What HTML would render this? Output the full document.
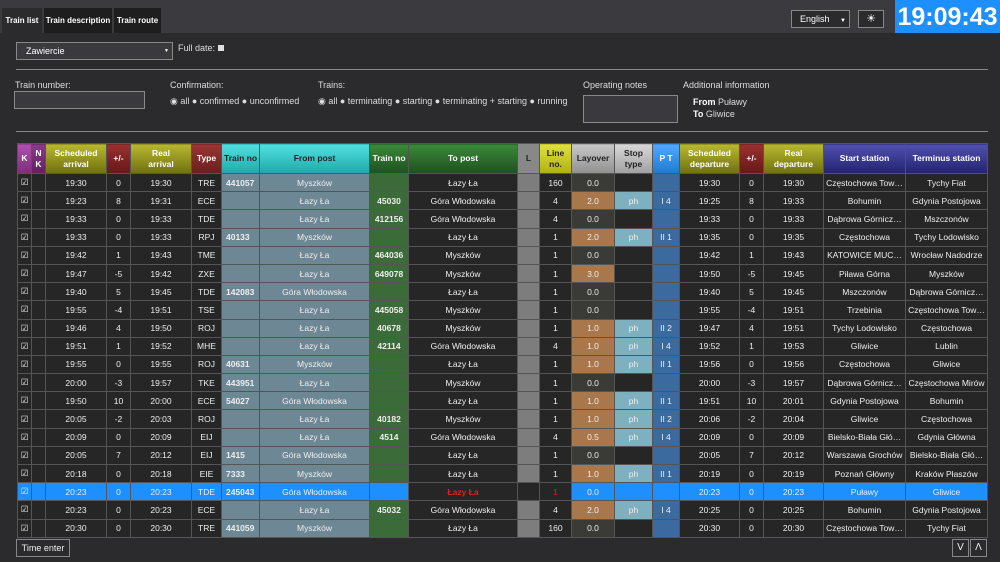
<!DOCTYPE html>
<html><head><meta charset="utf-8"><style>
*{box-sizing:border-box;margin:0;padding:0}
body{width:1000px;height:562px;background:#2b2b2e;font-family:"Liberation Sans",sans-serif;color:#ddd;position:relative;overflow:hidden;font-size:9px}
.top{position:absolute;left:0;top:0;width:1000px;height:33px;background:#3b3b3f}
.tab{position:absolute;top:8px;height:25px;background:#1e1e1f;color:#fff;font-weight:bold;font-size:8px;line-height:26px;text-align:center}
.clock{position:absolute;left:895px;top:0;width:105px;height:33px;background:#1e8fff;color:#fff;font-weight:bold;font-size:25px;line-height:34px;text-align:center}
.ab{position:absolute}
.box{position:absolute;border:1px solid #888;background:#3a3a3e}
table{position:absolute;left:17px;top:143px;width:970px;border-collapse:collapse;table-layout:fixed}
th{height:30px;color:#fff;font-size:8.5px;font-weight:bold;border:1px solid #555;line-height:11px}
td{height:18.2px;border:1px solid #555;text-align:center;font-size:8.5px;color:#eee;background:#262626;white-space:nowrap;overflow:hidden}
.ts{background:#6d8795;font-weight:bold;text-align:left;padding-left:4px}
.fp{background:#6d8795}
.tn{background:#3c6b3a;font-weight:bold}
.l{background:#7d7d7d}
.lo{background:#a8774c}
.ld{background:#3a3a36}
.sp{background:#7fb0bf}
.pt{background:#3b6b9e}
tr.sel td{background:#1e8fff}
tr.sel td.dk{background:#262626}
</style></head><body>
<div class="top"></div>
<div class="tab" style="left:2px;width:40px;background:#2b2b2e">Train list</div>
<div class="tab" style="left:44px;width:68px">Train description</div>
<div class="tab" style="left:114px;width:47px">Train route</div>
<div class="box" style="left:791px;top:10px;width:59px;height:18px;background:#2b2b2e;color:#fff;font-size:9px;line-height:16px;padding-left:8px">English <span style="font-size:6px;margin-left:8px">▼</span></div>
<div class="box" style="left:858px;top:10px;width:26px;height:18px;background:#2b2b2e;color:#fff;text-align:center;line-height:16px;font-size:11px">☀</div>
<div class="clock">19:09:43</div>

<div class="box" style="left:16px;top:42px;width:157px;height:18px;color:#fff;font-size:9px;line-height:16px;padding-left:9px">Zawiercie<span style="position:absolute;right:3px;font-size:5px">▼</span></div>
<div class="ab" style="left:178px;top:43px;color:#ddd">Full date: <span style="display:inline-block;width:6px;height:6px;background:#ddd"></span></div>
<div class="ab" style="left:16px;top:69px;width:972px;height:1px;background:#888"></div>
<div class="ab" style="left:15px;top:80px">Train number:</div>
<div class="box" style="left:14px;top:91px;width:131px;height:18px"></div>
<div class="ab" style="left:170px;top:80px">Confirmation:</div>
<div class="ab" style="left:170px;top:96px">◉ all ● confirmed ● unconfirmed</div>
<div class="ab" style="left:318px;top:80px">Trains:</div>
<div class="ab" style="left:318px;top:96px">◉ all ● terminating ● starting ● terminating + starting ● running</div>
<div class="ab" style="left:583px;top:80px">Operating notes</div>
<div class="box" style="left:583px;top:95px;width:95px;height:28px"></div>
<div class="ab" style="left:683px;top:80px">Additional information</div>
<div class="ab" style="left:693px;top:96px;line-height:12px"><b style="color:#fff">From</b> Puławy<br><b style="color:#fff">To</b> Gliwice</div>
<div class="ab" style="left:16px;top:131px;width:972px;height:1px;background:#888"></div>

<table>
<colgroup><col style="width:14px"><col style="width:14px"><col style="width:61px"><col style="width:24px"><col style="width:61px"><col style="width:30px"><col style="width:38px"><col style="width:110px"><col style="width:39px"><col style="width:109px"><col style="width:22px"><col style="width:32px"><col style="width:43px"><col style="width:38px"><col style="width:27px"><col style="width:60px"><col style="width:24px"><col style="width:60px"><col style="width:82px"><col style="width:82px"></colgroup>
<tr>
<th style="background:linear-gradient(#b050b0,#7a2f7a)">K</th>
<th style="background:linear-gradient(#8a3a8a,#5e215e)">N<br>K</th>
<th style="background:linear-gradient(#b8b830,#707010)">Scheduled<br>arrival</th>
<th style="background:linear-gradient(#9a3030,#661818)">+/-</th>
<th style="background:linear-gradient(#b8b830,#707010)">Real<br>arrival</th>
<th style="background:linear-gradient(#9a3535,#6a1e1e)">Type</th>
<th style="background:linear-gradient(#50e0e0,#20a8a8);color:#222">Train no</th>
<th style="background:linear-gradient(#50e0e0,#20a8a8);color:#222">From post</th>
<th style="background:linear-gradient(#3a8a3a,#1f501f)">Train no</th>
<th style="background:linear-gradient(#3a8a3a,#1f501f)">To post</th>
<th style="background:#888;color:#222">L</th>
<th style="background:linear-gradient(#e0e040,#b0b010);color:#222">Line<br>no.</th>
<th style="background:linear-gradient(#c8c8c8,#909090);color:#222">Layover</th>
<th style="background:linear-gradient(#d8d8d8,#a0a0a0);color:#222">Stop<br>type</th>
<th style="background:linear-gradient(#50a8ff,#1f7ad0)">P T</th>
<th style="background:linear-gradient(#b8b830,#707010)">Scheduled<br>departure</th>
<th style="background:linear-gradient(#9a3030,#661818)">+/-</th>
<th style="background:linear-gradient(#b8b830,#707010)">Real<br>departure</th>
<th style="background:linear-gradient(#5050b0,#23236e)">Start station</th>
<th style="background:linear-gradient(#5050b0,#23236e)">Terminus station</th>
</tr>
<tr><td>☑</td><td></td><td>19:30</td><td>0</td><td>19:30</td><td>TRE</td><td class="ts">441057</td><td class="fp">Myszków</td><td class="tn"></td><td>Łazy Ła</td><td class="l"></td><td>160</td><td class="ld">0.0</td><td></td><td class="pt"></td><td>19:30</td><td>0</td><td>19:30</td><td>Częstochowa Tow…</td><td>Tychy Fiat</td></tr>
<tr><td>☑</td><td></td><td>19:23</td><td>8</td><td>19:31</td><td>ECE</td><td class="ts"></td><td class="fp">Łazy Ła</td><td class="tn">45030</td><td>Góra Włodowska</td><td class="l"></td><td>4</td><td class="lo">2.0</td><td class="sp">ph</td><td class="pt">I 4</td><td>19:25</td><td>8</td><td>19:33</td><td>Bohumin</td><td>Gdynia Postojowa</td></tr>
<tr><td>☑</td><td></td><td>19:33</td><td>0</td><td>19:33</td><td>TDE</td><td class="ts"></td><td class="fp">Łazy Ła</td><td class="tn">412156</td><td>Góra Włodowska</td><td class="l"></td><td>4</td><td class="ld">0.0</td><td></td><td class="pt"></td><td>19:33</td><td>0</td><td>19:33</td><td>Dąbrowa Górnicz…</td><td>Mszczonów</td></tr>
<tr><td>☑</td><td></td><td>19:33</td><td>0</td><td>19:33</td><td>RPJ</td><td class="ts">40133</td><td class="fp">Myszków</td><td class="tn"></td><td>Łazy Ła</td><td class="l"></td><td>1</td><td class="lo">2.0</td><td class="sp">ph</td><td class="pt">II 1</td><td>19:35</td><td>0</td><td>19:35</td><td>Częstochowa</td><td>Tychy Lodowisko</td></tr>
<tr><td>☑</td><td></td><td>19:42</td><td>1</td><td>19:43</td><td>TME</td><td class="ts"></td><td class="fp">Łazy Ła</td><td class="tn">464036</td><td>Myszków</td><td class="l"></td><td>1</td><td class="ld">0.0</td><td></td><td class="pt"></td><td>19:42</td><td>1</td><td>19:43</td><td>KATOWICE MUC…</td><td>Wrocław Nadodrze</td></tr>
<tr><td>☑</td><td></td><td>19:47</td><td>-5</td><td>19:42</td><td>ZXE</td><td class="ts"></td><td class="fp">Łazy Ła</td><td class="tn">649078</td><td>Myszków</td><td class="l"></td><td>1</td><td class="lo">3.0</td><td></td><td class="pt"></td><td>19:50</td><td>-5</td><td>19:45</td><td>Piława Górna</td><td>Myszków</td></tr>
<tr><td>☑</td><td></td><td>19:40</td><td>5</td><td>19:45</td><td>TDE</td><td class="ts">142083</td><td class="fp">Góra Włodowska</td><td class="tn"></td><td>Łazy Ła</td><td class="l"></td><td>1</td><td class="ld">0.0</td><td></td><td class="pt"></td><td>19:40</td><td>5</td><td>19:45</td><td>Mszczonów</td><td>Dąbrowa Górnicz…</td></tr>
<tr><td>☑</td><td></td><td>19:55</td><td>-4</td><td>19:51</td><td>TSE</td><td class="ts"></td><td class="fp">Łazy Ła</td><td class="tn">445058</td><td>Myszków</td><td class="l"></td><td>1</td><td class="ld">0.0</td><td></td><td class="pt"></td><td>19:55</td><td>-4</td><td>19:51</td><td>Trzebinia</td><td>Częstochowa Tow…</td></tr>
<tr><td>☑</td><td></td><td>19:46</td><td>4</td><td>19:50</td><td>ROJ</td><td class="ts"></td><td class="fp">Łazy Ła</td><td class="tn">40678</td><td>Myszków</td><td class="l"></td><td>1</td><td class="lo">1.0</td><td class="sp">ph</td><td class="pt">II 2</td><td>19:47</td><td>4</td><td>19:51</td><td>Tychy Lodowisko</td><td>Częstochowa</td></tr>
<tr><td>☑</td><td></td><td>19:51</td><td>1</td><td>19:52</td><td>MHE</td><td class="ts"></td><td class="fp">Łazy Ła</td><td class="tn">42114</td><td>Góra Włodowska</td><td class="l"></td><td>4</td><td class="lo">1.0</td><td class="sp">ph</td><td class="pt">I 4</td><td>19:52</td><td>1</td><td>19:53</td><td>Gliwice</td><td>Lublin</td></tr>
<tr><td>☑</td><td></td><td>19:55</td><td>0</td><td>19:55</td><td>ROJ</td><td class="ts">40631</td><td class="fp">Myszków</td><td class="tn"></td><td>Łazy Ła</td><td class="l"></td><td>1</td><td class="lo">1.0</td><td class="sp">ph</td><td class="pt">II 1</td><td>19:56</td><td>0</td><td>19:56</td><td>Częstochowa</td><td>Gliwice</td></tr>
<tr><td>☑</td><td></td><td>20:00</td><td>-3</td><td>19:57</td><td>TKE</td><td class="ts">443951</td><td class="fp">Łazy Ła</td><td class="tn"></td><td>Myszków</td><td class="l"></td><td>1</td><td class="ld">0.0</td><td></td><td class="pt"></td><td>20:00</td><td>-3</td><td>19:57</td><td>Dąbrowa Górnicz…</td><td>Częstochowa Mirów</td></tr>
<tr><td>☑</td><td></td><td>19:50</td><td>10</td><td>20:00</td><td>ECE</td><td class="ts">54027</td><td class="fp">Góra Włodowska</td><td class="tn"></td><td>Łazy Ła</td><td class="l"></td><td>1</td><td class="lo">1.0</td><td class="sp">ph</td><td class="pt">II 1</td><td>19:51</td><td>10</td><td>20:01</td><td>Gdynia Postojowa</td><td>Bohumin</td></tr>
<tr><td>☑</td><td></td><td>20:05</td><td>-2</td><td>20:03</td><td>ROJ</td><td class="ts"></td><td class="fp">Łazy Ła</td><td class="tn">40182</td><td>Myszków</td><td class="l"></td><td>1</td><td class="lo">1.0</td><td class="sp">ph</td><td class="pt">II 2</td><td>20:06</td><td>-2</td><td>20:04</td><td>Gliwice</td><td>Częstochowa</td></tr>
<tr><td>☑</td><td></td><td>20:09</td><td>0</td><td>20:09</td><td>EIJ</td><td class="ts"></td><td class="fp">Łazy Ła</td><td class="tn">4514</td><td>Góra Włodowska</td><td class="l"></td><td>4</td><td class="lo">0.5</td><td class="sp">ph</td><td class="pt">I 4</td><td>20:09</td><td>0</td><td>20:09</td><td>Bielsko-Biała Głó…</td><td>Gdynia Główna</td></tr>
<tr><td>☑</td><td></td><td>20:05</td><td>7</td><td>20:12</td><td>EIJ</td><td class="ts">1415</td><td class="fp">Góra Włodowska</td><td class="tn"></td><td>Łazy Ła</td><td class="l"></td><td>1</td><td class="ld">0.0</td><td></td><td class="pt"></td><td>20:05</td><td>7</td><td>20:12</td><td>Warszawa Grochów</td><td>Bielsko-Biała Głó…</td></tr>
<tr><td>☑</td><td></td><td>20:18</td><td>0</td><td>20:18</td><td>EIE</td><td class="ts">7333</td><td class="fp">Myszków</td><td class="tn"></td><td>Łazy Ła</td><td class="l"></td><td>1</td><td class="lo">1.0</td><td class="sp">ph</td><td class="pt">II 1</td><td>20:19</td><td>0</td><td>20:19</td><td>Poznań Główny</td><td>Kraków Płaszów</td></tr>
<tr class="sel"><td>☑</td><td></td><td>20:23</td><td>0</td><td>20:23</td><td>TDE</td><td style="font-weight:bold;text-align:left;padding-left:4px">245043</td><td>Góra Włodowska</td><td></td><td class="dk" style="color:#e02020;font-weight:bold">Łazy Ła</td><td class="dk"></td><td class="dk" style="color:#e02020">1</td><td>0.0</td><td></td><td></td><td>20:23</td><td>0</td><td>20:23</td><td>Puławy</td><td>Gliwice</td></tr>
<tr><td>☑</td><td></td><td>20:23</td><td>0</td><td>20:23</td><td>ECE</td><td class="ts"></td><td class="fp">Łazy Ła</td><td class="tn">45032</td><td>Góra Włodowska</td><td class="l"></td><td>4</td><td class="lo">2.0</td><td class="sp">ph</td><td class="pt">I 4</td><td>20:25</td><td>0</td><td>20:25</td><td>Bohumin</td><td>Gdynia Postojowa</td></tr>
<tr><td>☑</td><td></td><td>20:30</td><td>0</td><td>20:30</td><td>TRE</td><td class="ts">441059</td><td class="fp">Myszków</td><td class="tn"></td><td>Łazy Ła</td><td class="l"></td><td>160</td><td class="ld">0.0</td><td></td><td class="pt"></td><td>20:30</td><td>0</td><td>20:30</td><td>Częstochowa Tow…</td><td>Tychy Fiat</td></tr>
</table>
<div class="box" style="left:16px;top:539px;width:54px;height:18px;background:#2b2b2e;color:#eee;text-align:center;line-height:16px">Time enter</div>
<div class="box" style="left:952px;top:539px;width:17px;height:18px;background:#2b2b2e;color:#eee;text-align:center;line-height:16px;font-size:10px">V</div>
<div class="box" style="left:970px;top:539px;width:17px;height:18px;background:#2b2b2e;color:#eee;text-align:center;line-height:16px;font-size:10px">Λ</div>
</body></html>
